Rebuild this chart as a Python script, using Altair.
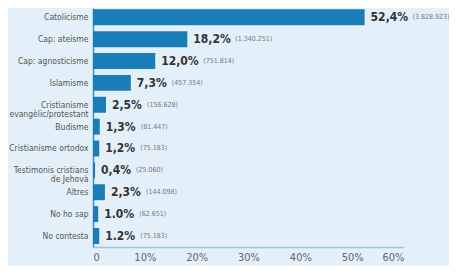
import altair as alt
import pandas as pd

categories = ["Catolicisme", "Cap: ateisme", "Cap: agnosticisme", "Islamisme",
              "Cristianisme|evangèlic/protestant", "Budisme", "Cristianisme ortodox",
              "Testimonis cristians|de Jehovà", "Altres", "No ho sap", "No contesta"]
pct = [52.4, 18.2, 12.0, 7.3, 2.5, 1.3, 1.2, 0.4, 2.3, 1.0, 1.2]
pct_labels = ["52,4%", "18,2%", "12,0%", "7,3%", "2,5%", "1,3%", "1,2%", "0,4%",
              "2,3%", "1.0%", "1.2%"]
counts = ["(3.828.923)", "(1.340.251)", "(751.814)", "(457.354)", "(156.628)",
          "(81.447)", "(75.183)", "(25.060)", "(144.098)", "(62.651)", "(75.183)"]
x_ticks = [0, 10, 20, 30, 40, 50, 60]

df = pd.DataFrame({"cat": categories, "pct": pct, "lab": pct_labels, "cnt": counts})

FONT = "DejaVu Sans Condensed, Roboto, sans-serif"
W = 311

y = alt.Y("cat:N", sort=categories, title=None,
          scale=alt.Scale(paddingInner=0.27, paddingOuter=0.1, align=0.3),
          axis=alt.Axis(labelExpr="split(datum.label, '|')", labelFont=FONT,
                        labelFontSize=8.5, labelColor="#555", labelLineHeight=9,
                        ticks=False, domainColor="#3d8fc2", domainWidth=1.5,
                        labelPadding=5))
x = alt.X("pct:Q", title=None,
          scale=alt.Scale(domain=[0, 60], nice=False),
          axis=alt.Axis(values=x_ticks, labelExpr="datum.value == 0 ? '0' : datum.value + '%'",
                        labelFont=FONT, labelFontSize=11, labelColor="#666",
                        ticks=False, grid=False, domainColor="#9cc7d4", domainWidth=1.5,
                        labelPadding=4))

base = alt.Chart(df)
bars = base.mark_bar(color="#1b7db7").encode(x=x, y=y)
ptxt = base.mark_text(align="left", baseline="middle", dx=6, font=FONT,
                      fontWeight="bold", fontSize=12, color="#333").encode(
    x="pct:Q", y=alt.Y("cat:N", sort=categories), text="lab:N")
ctxt = base.transform_calculate(
    pos2=f"datum.pct + (length(datum.lab) * 7.0 + 13) * 60 / {W}"
).mark_text(align="left", baseline="middle", font=FONT, fontSize=7,
            color="#777").encode(
    x="pos2:Q", y=alt.Y("cat:N", sort=categories), text="cnt:N")

chart = alt.layer(bars, ptxt, ctxt).properties(
    width=W, height=239,
    padding={"left": 85, "top": 0, "right": 45, "bottom": 19},
    autosize="none",
    background="#e4f0f9",
).configure_view(stroke=None)

chart.save("out.html", embed_options={"renderer": "svg", "actions": False})
